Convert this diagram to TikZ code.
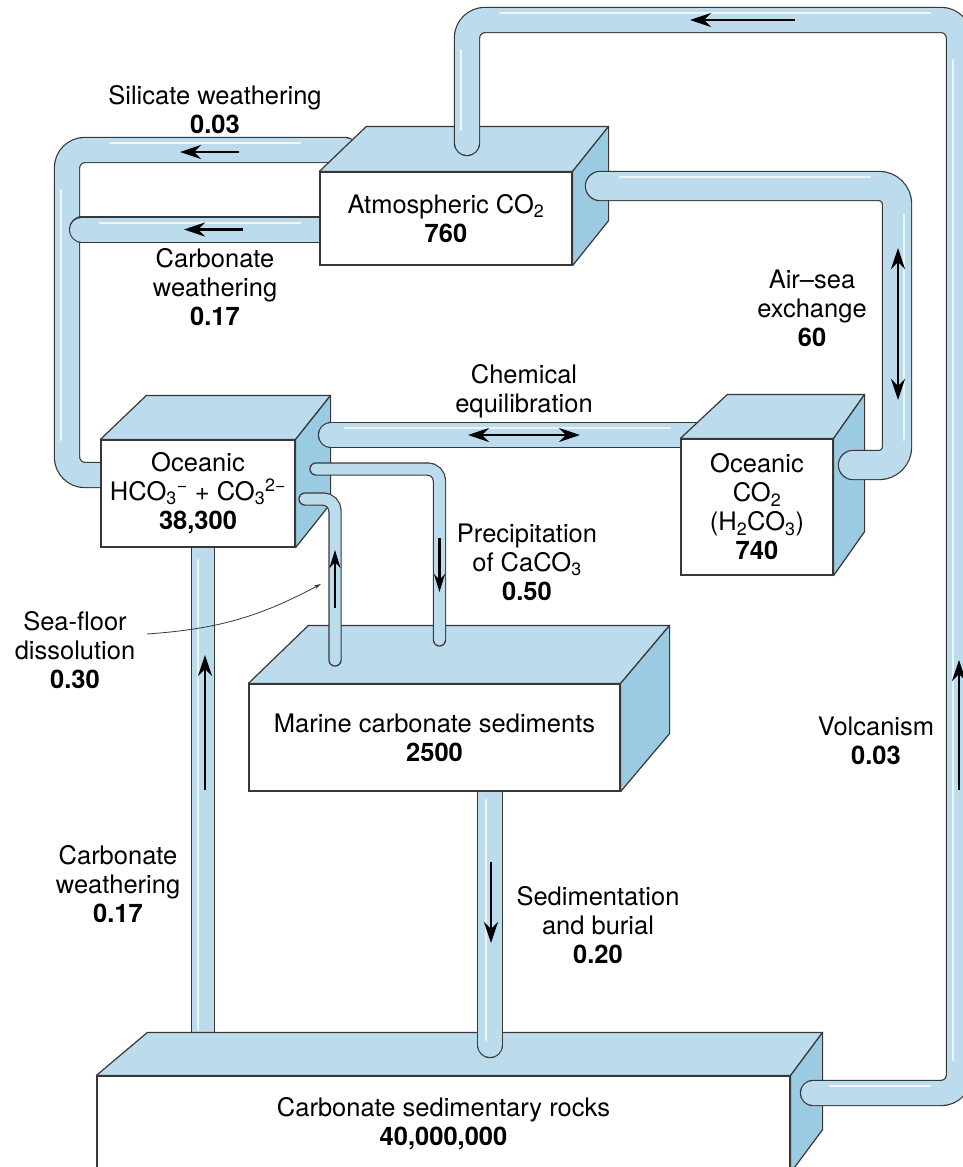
\documentclass[tikz,border=0pt]{standalone}
\usepackage{fontspec}
\setmainfont{TeX Gyre Heros}
\usetikzlibrary{arrows.meta,calc}

\definecolor{pipeblue}{RGB}{188,220,237}
\definecolor{sideblue}{RGB}{155,203,226}
\definecolor{edgegray}{RGB}{55,55,55}

% 立体方块: 节点名, 左偏移, 右偏移, 深度
\newcommand{\blockbox}[4]{%
  \filldraw[fill=pipeblue, draw=edgegray, line width=1.2pt, line join=round]
    (#1.north west) -- ++(#2,-#4) -- ($(#1.north east)+(#3,-#4)$) -- (#1.north east) -- cycle;
  \filldraw[fill=sideblue, draw=edgegray, line width=1.2pt, line join=round]
    (#1.north east) -- ++(#3,-#4) -- ($(#1.south east)+(#3,-#4)$) -- (#1.south east) -- cycle;
}

\tikzset{
  pipe/.style={line width=1.2pt, draw=edgegray, double=pipeblue, double distance=#1,
    line cap=round, rounded corners=18pt},
  pipe/.default=24pt,
  thinpipe/.style={pipe=11pt, rounded corners=12pt},
  gloss/.style={white, line width=2.5pt, line cap=round, opacity=0.75},
  flow/.style={line width=2.8pt, -{Stealth[length=21pt,width=14pt]}},
  flows/.style={line width=2.8pt, {Stealth[length=21pt,width=14pt]}-{Stealth[length=21pt,width=14pt]}},
  smallflow/.style={line width=2.4pt, -{Stealth[length=18pt,width=11pt]}},
  face/.style={draw=edgegray, line width=1.2pt, fill=white, inner sep=0pt, align=center},
  lbl/.style={align=center},
}

\begin{document}
\begin{tikzpicture}[x=1pt, y=-1pt, font=\fontsize{25.5}{29}\selectfont]
    \useasboundingbox (0,0) rectangle (963,1167);
    \clip (0,0) rectangle (963,1167);

    % 方块后面的管道
    \draw[pipe] (345,150) -- (67,150) -- (67,475) -- (115,475);
    \draw[pipe] (330,229.5) -- (82,229.5);
    \draw[pipe=22pt] (203,540) -- (203,1045);
    \draw[gloss] (61,190) -- (61,440);
    \draw[gloss] (110,143) -- (300,143);
    \draw[gloss] (100,223) -- (300,223);
    \draw[gloss] (198,560) -- (198,1030);

    % 海洋碳酸氢根
    \node[face, minimum width=194, minimum height=107] (hco) at (198,493.5)
      {Oceanic\\HCO\textsubscript{3}\textsuperscript{−} + CO\textsubscript{3}\textsuperscript{2−}\\\textbf{38,300}};
    \blockbox{hco}{46}{35}{44}

    % 化学平衡管道
    \draw[pipe] (331,435) -- (700,435);
    \draw[gloss] (345,428) -- (670,428);

    % 海洋 CO2
    \node[face, minimum width=152, minimum height=136] (oco) at (757,507)
      {Oceanic\\CO\textsubscript{2}\\(H\textsubscript{2}CO\textsubscript{3})\\\textbf{740}};
    \blockbox{oco}{47}{31}{44}

    % 大气 CO2
    \node[face, minimum width=252, minimum height=93] (atm) at (446,218.5)
      {Atmospheric CO\textsubscript{2}\\\textbf{760}};
    \blockbox{atm}{47}{36}{45}

    % 碳酸盐沉积岩
    \node[face, minimum width=693, minimum height=96] (rock) at (443.5,1124)
      {Carbonate sedimentary rocks\\\textbf{40,000,000}};
    \blockbox{rock}{51}{32}{43}

    % 沉积与埋藏
    \draw[pipe] (490,780) -- (490,1045);
    \draw[gloss] (486,800) -- (486,1040);

    % 海洋碳酸盐沉积物
    \node[face, minimum width=371, minimum height=107] (mar) at (434.5,737.5)
      {Marine carbonate sediments\\\textbf{2500}};
    \blockbox{mar}{60}{49}{58}

    % 方块前面的管道
    \coordinate (volcA) at (813,1093);
    \coordinate (volcB) at (467,143);
    \draw[pipe] (volcA) -- (959,1093) -- (959,20) -- (467,20) -- (volcB);
    \draw[pipe=28pt] (600,186) -- (897,186) -- (897,465) -- (853,465);
    \draw[thinpipe] (316,469) -- (439.5,469) -- (439.5,640);
    \draw[thinpipe] (305,499) -- (335,499) -- (335,660);
    \draw[gloss] (500,13) -- (930,13);
    \draw[gloss] (953,60) -- (953,1060);
    \draw[gloss] (830,1086) -- (930,1086);
    \draw[gloss] (620,177) -- (870,177);
    \draw[gloss] (904,215) -- (904,440);
    \draw[gloss] (461,50) -- (461,130);

    % 箭头
    \draw[flow] (239,152) -- (180,152);
    \draw[flow] (243,229.5) -- (184,229.5);
    \draw[flow] (795,20) -- (690,20);
    \draw[flow] (959,790) -- (959,660);
    \draw[flows] (898,248) -- (898,400);
    \draw[flows] (468,435) -- (580,435);
    \draw[flow] (205,790) -- (205,655);
    \draw[flow] (491,862) -- (491,943);
    \draw[smallflow] (439.5,538) -- (439.5,592);
    \draw[smallflow] (335,608) -- (335,550);

    % 标注
    \node[lbl] (silW) at (215,110) {Silicate weathering\\\textbf{0.03}};
    \node[lbl] (carbW) at (215,287) {Carbonate\\weathering\\\textbf{0.17}};
    \node[lbl] (airsea) at (812,308) {Air–sea\\exchange\\\textbf{60}};
    \node[lbl] (chem) at (524,391) {Chemical\\equilibration};
    \node[lbl] (precip) at (527,562) {Precipitation\\of CaCO\textsubscript{3}\\\textbf{0.50}};
    \node[lbl] (seaflr) at (75,650) {Sea-floor\\dissolution\\\textbf{0.30}};
    \node[lbl] (volc) at (876,741) {Volcanism\\\textbf{0.03}};
    \node[lbl] (carbW2) at (118,884) {Carbonate\\weathering\\\textbf{0.17}};
    \node[lbl] (sedim) at (598,925) {Sedimentation\\and burial\\\textbf{0.20}};

    \coordinate (seaTip) at (321,584);
    \draw[line width=0.8pt, draw=edgegray, -{Stealth[length=7pt,width=4pt]}]
      (147,634) to[bend right=12] (seaTip);
\end{tikzpicture}
\end{document}
